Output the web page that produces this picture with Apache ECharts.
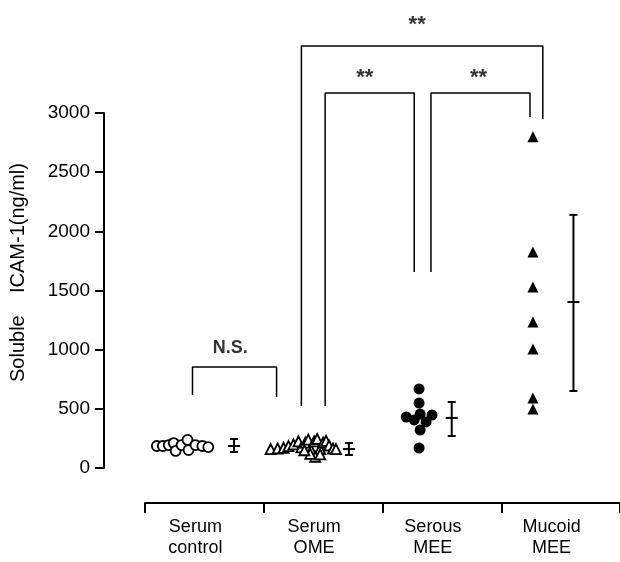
<!DOCTYPE html>
<html>
<head>
<meta charset="utf-8">
<script src="https://cdn.jsdelivr.net/npm/echarts@6/dist/echarts.min.js"></script>
<style>
  html, body { margin: 0; padding: 0; background: #fff; }
  #chart { width: 620px; height: 562px; }
</style>
</head>
<body>
<div id="chart"></div>
<script>
const categories = ['Serum\ncontrol', 'Serum\nOME', 'Serous\nMEE', 'Mucoid\nMEE'];
const yTicks = [0, 500, 1000, 1500, 2000, 2500, 3000];

// [x position within group axis, value ng/ml]
const serumControl = [
  [0.10, 186], [0.15, 186], [0.20, 194], [0.242, 211], [0.258, 144], [0.308, 194],
  [0.358, 237], [0.367, 152], [0.425, 194], [0.483, 186], [0.533, 177]
];
const serumOME = [
  [1.058, 160], [1.117, 165], [1.167, 170], [1.208, 185], [1.25, 200], [1.292, 225],
  [1.317, 175], [1.35, 215], [1.375, 240], [1.40, 150], [1.425, 225], [1.45, 245],
  [1.475, 160], [1.50, 215], [1.525, 230], [1.55, 190], [1.583, 165], [1.608, 160],
  [1.433, 95], [1.392, 120], [1.475, 115], [1.342, 150]
];
const serousMEE = [
  [2.308, 668], [2.308, 549], [2.20, 431], [2.267, 406], [2.317, 456],
  [2.417, 448], [2.367, 389], [2.317, 321], [2.308, 169]
];
const mucoidMEE = [
  [3.267, 2800], [3.267, 1826], [3.267, 1530], [3.267, 1234],
  [3.267, 1006], [3.267, 592], [3.267, 499]
];

// [x, low, mean, high]
const errorBars = [
  [0.75, 135, 186, 245],
  [1.717, 110, 160, 211],
  [2.583, 270, 423, 558],
  [3.608, 651, 1403, 2139]
];

// significance brackets, in data coordinates
const brackets = [
  [[0.40, 617], [0.40, 853], [1.108, 853], [1.108, 600]],
  [[1.317, 524], [1.317, 3566], [3.35, 3566], [3.35, 2949]],
  [[1.517, 524], [1.517, 3169], [2.267, 3169], [2.267, 1656]],
  [[2.408, 1656], [2.408, 3169], [3.242, 3169], [3.242, 2966]]
];
const bracketLabels = [
  [0.717, 1010, 'N.S.'],
  [2.292, 3740, '**'],
  [1.85, 3300, '**'],
  [2.808, 3300, '**']
];

const font = 'Liberation Sans, Arial, Helvetica, sans-serif';
const chart = echarts.init(document.getElementById('chart'));

const series = [
  {
    type: 'scatter', xAxisIndex: 1, data: serumControl,
    symbol: 'circle', symbolSize: 10,
    itemStyle: { color: '#fff', borderColor: '#000', borderWidth: 1.8, opacity: 1 }
  },
  {
    type: 'scatter', xAxisIndex: 1, data: serumOME,
    symbol: 'triangle', symbolSize: 10,
    itemStyle: { color: '#fff', borderColor: '#000', borderWidth: 1.8, opacity: 1 }
  },
  {
    type: 'scatter', xAxisIndex: 1, data: serousMEE,
    symbol: 'circle', symbolSize: 11,
    itemStyle: { color: '#000', opacity: 1 }
  },
  {
    type: 'scatter', xAxisIndex: 1, data: mucoidMEE,
    symbol: 'triangle', symbolSize: 11,
    itemStyle: { color: '#000', opacity: 1 }
  },
  {
    type: 'custom', xAxisIndex: 1, data: errorBars,
    encode: { x: 0, y: [1, 2, 3] },
    renderItem: function (params, api) {
      const x = api.value(0);
      const lo = api.coord([x, api.value(1)]);
      const mid = api.coord([x, api.value(2)]);
      const hi = api.coord([x, api.value(3)]);
      const style = { stroke: '#000', lineWidth: 2 };
      const seg = (x1, y1, x2, y2) => ({ type: 'line', shape: { x1, y1, x2, y2 }, style });
      return {
        type: 'group',
        children: [
          seg(hi[0], hi[1], lo[0], lo[1]),
          seg(hi[0] - 4, hi[1], hi[0] + 4, hi[1]),
          seg(lo[0] - 4, lo[1], lo[0] + 4, lo[1]),
          seg(mid[0] - 6, mid[1], mid[0] + 6, mid[1])
        ]
      };
    }
  }
];

brackets.forEach(function (b) {
  series.push({
    type: 'line', xAxisIndex: 1, data: b, symbol: 'none', clip: false,
    silent: true, lineStyle: { color: '#000', width: 1.5 }
  });
});

series.push({
  type: 'scatter', xAxisIndex: 1, clip: false, symbolSize: 0, silent: true,
  data: bracketLabels.map(d => ({
    value: [d[0], d[1]], name: d[2],
    // N.S. is smaller than the asterisks
    label: d[2] === 'N.S.' ? { fontSize: 18 } : {}
  })),
  label: {
    show: true, position: 'inside', formatter: '{b}',
    color: '#000', fontFamily: font, fontSize: 22, fontWeight: 'bold'
  }
});

chart.setOption({
  animation: false,
  grid: { left: 145, right: -5, top: 113, bottom: 94 },
  xAxis: [
    {
      type: 'category', data: categories, position: 'bottom', offset: 35,
      axisLine: { onZero: false, lineStyle: { color: '#000', width: 2 } },
      axisTick: {
        show: true, interval: 0, alignWithLabel: false, length: 10,
        lineStyle: { color: '#000', width: 2 }
      },
      axisLabel: {
        color: '#000', fontFamily: font, fontSize: 18, lineHeight: 21,
        margin: 14, padding: [0, 18, 0, 0]
      },
      splitLine: { show: false }
    },
    { type: 'value', min: 0, max: 4, show: false }
  ],
  yAxis: {
    type: 'value', min: yTicks[0], max: yTicks[yTicks.length - 1], interval: 500,
    offset: 41,
    name: 'Soluble    ICAM-1(ng/ml)', nameLocation: 'middle', nameRotate: 90, nameGap: 76,
    nameMoveOverlap: false,
    nameTextStyle: { color: '#000', fontFamily: font, fontSize: 20, padding: [0, 0, 0, 36] },
    axisLine: { show: true, onZero: false, lineStyle: { color: '#000', width: 2 } },
    axisTick: { show: true, length: 9, lineStyle: { color: '#000', width: 2 } },
    axisLabel: {
      color: '#000', fontFamily: font, fontSize: 19, margin: 14,
      formatter: v => String(v)
    },
    splitLine: { show: false }
  },
  series: series
});
</script>
</body>
</html>
